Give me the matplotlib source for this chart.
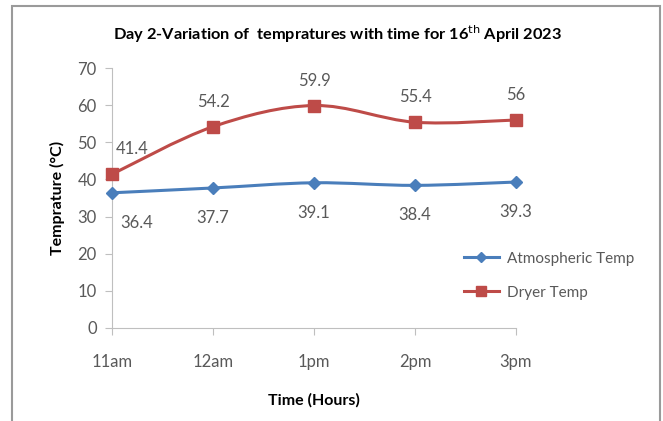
import matplotlib.pyplot as plt
from matplotlib.path import Path
from matplotlib.patches import PathPatch, Rectangle
import numpy as np

plt.rcParams['font.family'] = ['Lato', 'DejaVu Sans']

times = ["11am", "12am", "1pm", "2pm", "3pm"]
atmospheric = [36.4, 37.7, 39.1, 38.4, 39.3]
dryer = [41.4, 54.2, 59.9, 55.4, 56]

blue = "#4A7EBB"
red = "#BE4B48"
grey_txt = "#595959"


def smooth_path(xs, ys):
    # Excel-style smoothed line as cubic Bezier segments through the points
    pts = np.column_stack([xs, ys]).astype(float)
    n = len(pts)
    verts = [pts[0]]
    codes = [Path.MOVETO]
    for i in range(n - 1):
        p0 = pts[i - 1] if i > 0 else pts[i]
        p1, p2 = pts[i], pts[i + 1]
        p3 = pts[i + 2] if i + 2 < n else pts[i + 1]
        c1 = p1 + (p2 - p0) / 6.0
        c2 = p2 - (p3 - p1) / 6.0
        verts += [c1, c2, p2]
        codes += [Path.CURVE4] * 3
    return Path(verts, codes)


fig = plt.figure(figsize=(6.63, 4.21), dpi=100)
fig.patches.append(Rectangle((12 / 663, -0.1), (660 - 12) / 663, 1.1 - 6 / 421,
                             transform=fig.transFigure, fill=False,
                             edgecolor="#9a9a9a", linewidth=1.5))
ax = fig.add_axes([112 / 663, 1 - 328 / 421, (516 - 112) / 663, (328 - 68) / 421])

x = np.arange(len(times))
for vals, col, mk, ms, lab in [(atmospheric, blue, "D", 6, "Atmospheric Temp"),
                               (dryer, red, "s", 8, "Dryer Temp")]:
    ax.add_patch(PathPatch(smooth_path(x, vals), facecolor="none", edgecolor=col,
                           linewidth=2.2, clip_on=False, zorder=3))
    ax.plot(x, vals, linestyle="none", marker=mk, markersize=ms, color=col,
            clip_on=False, zorder=4)
    ax.plot([], [], color=col, linewidth=2.2, marker=mk, markersize=ms - 1, label=lab)

dryer_dx = [20, 0, 0, 0, 0]
atm_dx = [25, 0, 0, 0, 0]
for i in range(len(times)):
    ax.annotate(f"{dryer[i]:g}", (x[i], dryer[i]), xytext=(dryer_dx[i], 25),
                textcoords="offset pixels", ha="center", va="center",
                fontsize=12, color=grey_txt)
    ax.annotate(f"{atmospheric[i]:g}", (x[i], atmospheric[i]), xytext=(atm_dx[i], -30),
                textcoords="offset pixels", ha="center", va="center",
                fontsize=12, color=grey_txt)

ax.set_xlim(0, len(times) - 1)
ax.set_ylim(0, 70)
ax.set_xticks(x)
ax.set_xticklabels(times)
ax.set_yticks(range(0, 71, 10))
for s in ["top", "right"]:
    ax.spines[s].set_visible(False)
for s in ["left", "bottom"]:
    ax.spines[s].set_color("#bfbfbf")
ax.tick_params(colors="#bfbfbf", labelcolor=grey_txt, labelsize=12, length=5)
ax.tick_params(axis="x", pad=14)
ax.tick_params(axis="y", pad=6)

ax.set_xlabel("Time (Hours)", fontsize=11.5, fontweight="bold", labelpad=16)
ax.set_ylabel("Temprature (\u00b0C)", fontsize=11.5, fontweight="bold", labelpad=9)
fig.text(338 / 663, 1 - 34 / 421,
         "Day 2-Variation of  tempratures with time for 16$^{\\mathrm{th}}$ April 2023",
         ha="center", va="center", fontsize=11.8, fontweight="bold")

ax.legend(loc="upper left", bbox_to_anchor=(450 / 663, 1 - 238 / 421),
          bbox_transform=fig.transFigure, frameon=False, fontsize=11,
          handlelength=2.3, handletextpad=0.5, labelspacing=1.3, labelcolor=grey_txt)

fig.savefig("out.png", dpi=100)
